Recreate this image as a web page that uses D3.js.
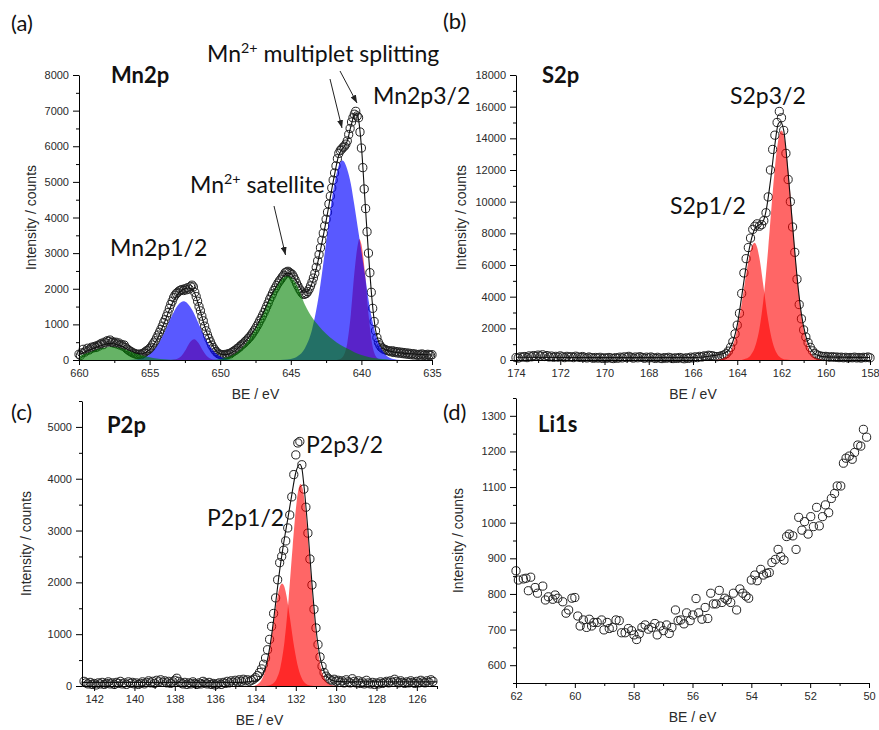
<!DOCTYPE html>
<html>
<head>
<meta charset="utf-8">
<script src="https://cdn.jsdelivr.net/npm/d3@7"></script>
<style>
  body { margin: 0; background: #fff; }
  .lbl { font-family: Lato, "Open Sans", sans-serif; fill: #111; }
</style>
</head>
<body>
<svg id="chart" width="879" height="730"></svg>
<script>
// ---------- Mn2p (a) ----------
const mnStart = 660, mnStep = 0.1;
const mnCounts = [
  160,130,200,300,220,260,330,280,310,360,
  340,380,350,410,390,440,470,430,500,480,
  540,520,560,490,510,470,500,450,480,420,
  440,390,420,350,310,280,250,230,200,190,
  170,160,150,170,150,180,200,230,260,280,
  320,360,420,480,540,620,700,780,860,950,
  1050,1130,1230,1330,1450,1560,1650,1750,1820,1870,
  1900,1940,1960,1980,1950,2000,1970,2030,1990,2060,
  2100,2050,1900,1780,1650,1500,1380,1230,1100,950,
  820,700,600,510,420,350,290,240,200,170,
  160,140,150,130,160,150,180,170,210,230,
  260,280,320,340,380,420,450,480,530,560,
  610,650,700,760,820,880,950,1020,1100,1170,
  1250,1330,1420,1510,1600,1700,1780,1860,1950,2020,
  2090,2160,2220,2270,2330,2380,2450,2470,2490,2460,
  2430,2400,2330,2250,2160,2080,2000,1940,1880,1840,
  1850,1870,1920,1990,2080,2180,2300,2430,2600,2780,
  2960,3150,3360,3560,3760,3950,4150,4380,4600,4830,
  5050,5250,5450,5650,5800,5880,5920,5970,6000,6060,
  6150,6330,6500,6680,6800,6900,6980,6850,6800,6400,
  5950,5400,4800,4250,3600,3000,2450,1900,1450,1080,
  820,630,500,420,360,330,300,290,270,260,
  250,230,260,210,240,200,230,190,220,180,
  210,170,200,160,190,150,180,140,170,150,
  130,160,140,170,130,150,120,160,140,130,
  150
];
const mnFit = [[660,150],[659.5,240],[659,320],[658.5,400],[658,460],[657.75,470],[657.5,450],[657,390],[656.5,290],[656,200],[655.6,170],[655.25,220],[655,290],[654.5,560],[654,1000],[653.5,1500],[653,1850],[652.75,1950],[652.5,2000],[652.25,2020],[652,1990],[651.75,1820],[651.5,1500],[651.25,1150],[651,820],[650.5,380],[650,170],[649.6,150],[649,250],[648.5,420],[648,620],[647.5,900],[647,1280],[646.5,1720],[646,2080],[645.5,2360],[645.25,2440],[645,2420],[644.5,2150],[644.1,1900],[643.8,1930],[643.5,2150],[643.25,2470],[643,2900],[642.5,3900],[642,5000],[641.6,5750],[641.3,5950],[641,6150],[640.75,6550],[640.5,6880],[640.35,6920],[640.2,6750],[640,6000],[639.75,4500],[639.5,3000],[639.25,1700],[639,850],[638.75,480],[638.5,330],[638,250],[637.5,210],[637,190],[636,160],[635,140]];
const mnGreenSmall = [[660,115],[659.5,180],[659,255],[658.5,320],[658,360],[657.7,370],[657.5,365],[657,330],[656.5,270],[656,195],[655.5,125],[655,75],[654.5,40],[654,18],[653.5,5],[653,0]];
const mnBlue12 = [[656.5,0],[656,15],[655.5,50],[655,155],[654.5,370],[654,730],[653.5,1180],[653,1540],[652.75,1630],[652.6,1650],[652.5,1640],[652.25,1560],[652,1420],[651.5,1000],[651,570],[650.5,265],[650,100],[649.5,30],[649,0]];
const mnRed12 = [[653.5,0],[653.25,12],[653,40],[652.75,115],[652.5,250],[652.25,430],[652,555],[651.85,580],[651.75,570],[651.5,455],[651.25,280],[651,135],[650.75,50],[650.5,15],[650.25,0]];
const mnGreenSat = [[650.5,0],[650,30],[649.5,75],[649,160],[648.5,320],[648,560],[647.5,900],[647,1320],[646.5,1750],[646,2100],[645.5,2320],[645.25,2350],[645,2320],[644.5,2050],[644,1550],[643.5,1200],[643,950],[642.5,740],[642,570],[641.5,430],[641,320],[640.5,220],[640,140],[639.5,85],[639,50],[638.5,25],[638,10],[637.5,0]];
const mnBlue32 = [[646,0],[645.5,10],[645,30],[644.5,110],[644,330],[643.5,850],[643,1850],[642.5,3300],[642,4750],[641.75,5250],[641.5,5550],[641.35,5600],[641.25,5580],[641,5350],[640.75,4950],[640.5,4350],[640.25,3700],[640,3050],[639.75,2400],[639.5,1700],[639.25,1150],[639,740],[638.75,450],[638.5,260],[638.25,135],[638,60],[637.5,10],[637,0]];
const mnRed32 = [[641.75,0],[641.5,25],[641.25,130],[641,480],[640.75,1280],[640.5,2440],[640.25,3250],[640.15,3400],[640,3250],[639.75,2450],[639.5,1300],[639.25,480],[639,120],[638.75,25],[638.5,0]];
const mnTicksX = [660,655,650,645,640,635];
const mnMinorX = [657.5,652.5,647.5,642.5,637.5];
const mnTicksY = [0,1000,2000,3000,4000,5000,6000,7000,8000];
const mnMinorY = [500,1500,2500,3500,4500,5500,6500,7500];

// ---------- S2p (b) ----------
const sStart = 174, sStep = 0.1;
const sCounts = [
  150,120,200,180,220,150,260,200,280,230,
  310,250,330,220,280,190,250,170,230,180,
  260,200,150,230,180,210,150,240,190,160,
  220,170,130,190,150,110,160,120,170,100,
  140,110,160,120,90,150,110,180,130,200,
  150,230,170,120,190,140,210,160,110,180,
  130,190,140,100,170,120,90,150,110,170,
  130,90,140,100,160,120,80,140,100,180,
  130,200,150,230,190,260,230,300,280,260,
  220,210,230,270,320,400,560,800,1150,1650,
  2200,2950,4200,5500,6400,7100,7700,8250,8450,8600,
  8450,8550,8800,9300,10300,12000,13300,14200,15000,15700,
  15300,14500,13050,11400,10000,8400,6800,5100,3500,2600,
  1900,1450,1100,800,580,420,330,270,240,220,
  230,200,180,210,170,190,150,180,140,170,
  130,160,140,180,130,160,120,170,150,190,
  140
];
const sFit = [[174,170],[170,150],[166,150],[165.5,200],[165.2,250],[165,290],[164.8,360],[164.6,430],[164.4,600],[164.2,1150],[164,2200],[163.8,4000],[163.6,5900],[163.4,7400],[163.2,8300],[163,8550],[162.85,8700],[162.7,9400],[162.5,11300],[162.3,13600],[162.15,14900],[162.05,15050],[161.9,14500],[161.7,11800],[161.5,8500],[161.3,5300],[161.1,2900],[160.9,1500],[160.7,750],[160.5,400],[160.3,260],[160,200],[158,160]];
const s12 = [[165,0],[164.8,33],[164.6,119],[164.4,360],[164.2,920],[164,1977],[163.8,3566],[163.6,5409],[163.4,6898],[163.3,7298],[163.22,7400],[163.1,7104],[163,6452],[162.8,4489],[162.6,2489],[162.4,1101],[162.2,388],[162,109],[161.8,24],[161.6,0]];
const s32 = [[163.8,0],[163.6,87],[163.4,288],[163.2,815],[163,1962],[162.8,4030],[162.6,7058],[162.4,10530],[162.2,13385],[162.1,14213],[162,14500],[161.9,14213],[161.8,13385],[161.6,10530],[161.4,7058],[161.2,4030],[161,1962],[160.8,815],[160.6,288],[160.4,87],[160.2,22],[160,0]];
const sTicksX = [174,172,170,168,166,164,162,160,158];
const sMinorX = [173,171,169,167,165,163,161,159];
const sTicksY = [0,2000,4000,6000,8000,10000,12000,14000,16000,18000];
const sMinorY = [1000,3000,5000,7000,9000,11000,13000,15000,17000];

// ---------- P2p (c) ----------
const pStart = 142.5, pStep = 0.1;
const pCounts = [
  90,60,40,70,30,50,20,60,40,70,
  30,50,80,40,60,30,70,50,90,40,
  60,30,80,50,70,40,60,30,50,80,
  40,70,100,60,90,50,110,80,120,70,
  100,60,90,50,80,110,150,90,60,40,
  70,30,60,40,80,50,30,60,40,90,
  60,40,70,30,50,20,40,60,30,70,
  50,90,60,100,70,110,80,120,90,130,
  100,120,90,110,130,160,200,260,330,420,
  540,700,900,1150,1400,1700,2050,2380,2500,2620,
  2800,3050,3300,3650,4080,4460,4690,4720,4270,3800,
  3450,2950,2450,1950,1480,1120,800,560,380,260,
  190,150,120,100,130,90,110,70,100,60,
  120,80,60,140,90,60,100,50,80,40,
  110,60,40,70,30,60,40,80,50,70,
  90,60,100,70,130,90,60,100,70,50,
  80,60,100,70,50,90,60,110,80,60,
  100,70,120,90
];
const pFit = [[142.6,70],[135,70],[134.4,80],[134,95],[133.8,130],[133.6,250],[133.4,520],[133.2,980],[133,1600],[132.8,2230],[132.6,2760],[132.4,3220],[132.2,3690],[132,4120],[131.8,4280],[131.7,4200],[131.6,3880],[131.4,3010],[131.2,1980],[131,1110],[130.8,560],[130.6,280],[130.4,160],[130.2,110],[130,90],[129,80],[125,80]];
const p12 = [[134.1,0],[133.88,40],[133.68,132],[133.48,351],[133.28,748],[133.08,1284],[132.88,1777],[132.78,1930],[132.68,1980],[132.58,1930],[132.48,1777],[132.28,1284],[132.08,748],[131.88,351],[131.68,132],[131.48,40],[131.28,10],[131.1,0]];
const p32 = [[133.5,0],[133.36,9],[133.16,38],[132.96,130],[132.76,367],[132.56,860],[132.36,1665],[132.16,2672],[131.96,3548],[131.86,3810],[131.76,3900],[131.66,3810],[131.56,3548],[131.36,2672],[131.16,1665],[130.96,860],[130.76,367],[130.56,130],[130.36,38],[130.16,9],[130,0]];
const pTicksX = [142,140,138,136,134,132,130,128,126];
const pMinorX = [141,139,137,135,133,131,129,127,125];
const pTicksY = [0,1000,2000,3000,4000,5000];
const pMinorY = [500,1500,2500,3500,4500,5500];

// ---------- Li1s (d) ----------
const liBE = [62.0,61.92,61.75,61.66,61.58,61.5,61.35,61.27,61.09,61.0,
  60.9,60.75,60.67,60.58,60.41,60.3,60.21,60.1,60.0,59.9,
  59.82,59.71,59.6,59.51,59.43,59.35,59.24,59.09,59.01,58.9,
  58.83,58.71,58.6,58.49,58.41,58.29,58.18,58.07,57.99,57.9,
  57.81,57.72,57.61,57.5,57.39,57.28,57.2,57.1,56.99,56.88,
  56.79,56.7,56.58,56.49,56.4,56.29,56.2,56.08,55.99,55.88,
  55.79,55.68,55.57,55.48,55.38,55.29,55.2,55.09,55.0,54.9,
  54.82,54.7,54.61,54.5,54.39,54.29,54.18,54.09,54.0,53.88,
  53.8,53.68,53.59,53.48,53.39,53.3,53.18,53.09,53.0,52.89,
  52.8,52.71,52.59,52.48,52.39,52.28,52.19,52.07,51.98,51.89,
  51.78,51.69,51.58,51.48,51.37,51.28,51.17,51.08,50.96,50.87,
  50.78,50.67,50.57,50.49,50.38,50.28,50.19,50.08];
const liCounts = [865,839,842,844,809,847,818,802,822,783,
  792,785,797,788,778,746,755,788,790,738,
  710,727,706,729,710,720,720,727,699,720,
  703,706,727,725,691,691,703,697,685,672,
  688,706,713,701,706,717,685,710,697,713,
  689,706,755,725,727,716,747,725,741,787,
  747,729,762,731,802,772,772,810,776,788,
  783,776,802,755,814,802,794,788,839,853,
  837,869,853,858,860,888,897,925,905,895,
  961,968,963,925,1015,979,1003,968,1017,989,
  1043,991,1017,1050,1028,1068,1082,1103,1103,1167,
  1181,1187,1178,1197,1218,1215,1262,1240];
const liTicksX = [62,60,58,56,54,52,50];
const liMinorX = [61,59,57,55,53,51];
const liTicksY = [600,700,800,900,1000,1100,1200,1300];
const liMinorY = [550,650,750,850,950,1050,1150,1250,1350];

const RED = "#ff0000", BLUE = "#0000ff", GREEN = "#008000";

const svg = d3.select("#chart");
const defs = svg.append("defs");
defs.append("marker").attr("id", "arr")
  .attr("viewBox", "0 0 8 6").attr("refX", 8).attr("refY", 3)
  .attr("markerWidth", 8).attr("markerHeight", 6)
  .attr("markerUnits", "userSpaceOnUse").attr("orient", "auto")
  .append("path").attr("d", "M0,0L8,3L0,6Z").attr("fill", "#222");

const grid = (start, step, arr) => arr.map((v, i) => [+(start - i * step).toFixed(2), v]);

function drawPanel(p) {
  const x = d3.scaleLinear().domain(p.xDom).range([p.x0, p.x1]);
  const y = d3.scaleLinear().domain(p.yDom).range([p.yBot, p.yTop]);
  const g = svg.append("g");

  // data points first, fills go over them
  g.append("g").selectAll("circle").data(p.points).join("circle")
    .attr("cx", d => x(d[0])).attr("cy", d => y(d[1])).attr("r", 4.1)
    .attr("fill", "none").attr("stroke", "#222").attr("stroke-width", 1);

  const area = d3.area().x(d => x(d[0])).y0(y(0)).y1(d => y(d[1])).curve(d3.curveMonotoneX);
  (p.comps || []).forEach(c => {
    g.append("path").datum(c.pts).attr("d", area)
      .attr("fill", c.color).attr("fill-opacity", c.op);
  });

  if (p.fit) {
    const line = d3.line().x(d => x(d[0])).y(d => y(d[1])).curve(d3.curveMonotoneX);
    g.append("path").datum(p.fit).attr("d", line)
      .attr("fill", "none").attr("stroke", "#111").attr("stroke-width", 1.1);
  }

  const styleAxis = s => {
    s.attr("font-family", "'Liberation Sans', Arial, sans-serif").attr("font-size", 11);
    s.selectAll("text").attr("fill", "#2a2a2a");
    s.select(".domain").attr("stroke", "#000");
  };
  g.append("g").attr("transform", `translate(0,${p.yBot})`)
    .call(d3.axisBottom(x).tickValues(p.xMajor).tickSize(5).tickSizeOuter(0).tickPadding(4).tickFormat(d3.format("d")))
    .call(styleAxis);
  g.append("g").attr("transform", `translate(0,${p.yBot})`)
    .call(d3.axisBottom(x).tickValues(p.xMinor).tickSize(3).tickFormat(""))
    .call(s => s.select(".domain").remove());
  g.append("g").attr("transform", `translate(${p.x0},0)`)
    .call(d3.axisLeft(y).tickValues(p.yMajor).tickSize(6).tickSizeOuter(0).tickPadding(4).tickFormat(d3.format("d")))
    .call(styleAxis);
  g.append("g").attr("transform", `translate(${p.x0},0)`)
    .call(d3.axisLeft(y).tickValues(p.yMinor).tickSize(3).tickFormat(""))
    .call(s => s.select(".domain").remove());

  g.append("text").attr("x", (p.x0 + p.x1) / 2).attr("y", p.yBot + 39)
    .attr("text-anchor", "middle").attr("font-family", "'Liberation Sans', Arial, sans-serif")
    .attr("font-size", 14).attr("fill", "#2a2a2a").text("BE / eV");
  g.append("text").attr("transform", `translate(${p.yTitleX},${(p.yTop + p.yBot) / 2}) rotate(-90)`)
    .attr("text-anchor", "middle").attr("font-family", "'Liberation Sans', Arial, sans-serif")
    .attr("font-size", 14).attr("fill", "#2a2a2a").text("Intensity / counts");
}

drawPanel({
  x0: 79, x1: 432, yTop: 75, yBot: 360, xDom: [660, 635], yDom: [0, 8000], yTitleX: 36,
  xMajor: mnTicksX, xMinor: mnMinorX, yMajor: mnTicksY, yMinor: mnMinorY,
  points: grid(mnStart, mnStep, mnCounts),
  comps: [
    { pts: mnRed12, color: RED, op: 0.6 }, { pts: mnRed32, color: RED, op: 0.6 },
    { pts: mnBlue12, color: BLUE, op: 0.65 }, { pts: mnBlue32, color: BLUE, op: 0.65 },
    { pts: mnGreenSmall, color: GREEN, op: 0.6 }, { pts: mnGreenSat, color: GREEN, op: 0.6 }
  ],
  fit: mnFit
});
drawPanel({
  x0: 516, x1: 870, yTop: 75, yBot: 360, xDom: [174, 158], yDom: [0, 18000], yTitleX: 466,
  xMajor: sTicksX, xMinor: sMinorX, yMajor: sTicksY, yMinor: sMinorY,
  points: grid(sStart, sStep, sCounts),
  comps: [{ pts: s12, color: RED, op: 0.6 }, { pts: s32, color: RED, op: 0.6 }],
  fit: sFit
});
drawPanel({
  x0: 82, x1: 437, yTop: 401, yBot: 686, xDom: [142.6, 125], yDom: [0, 5500], yTitleX: 31,
  xMajor: pTicksX, xMinor: pMinorX, yMajor: pTicksY, yMinor: pMinorY,
  points: grid(pStart, pStep, pCounts),
  comps: [{ pts: p12, color: RED, op: 0.6 }, { pts: p32, color: RED, op: 0.6 }],
  fit: pFit
});
drawPanel({
  x0: 516, x1: 869, yTop: 398, yBot: 683, xDom: [62, 50], yDom: [550, 1350], yTitleX: 463,
  xMajor: liTicksX, xMinor: liMinorX, yMajor: liTicksY, yMinor: liMinorY,
  points: liBE.map((b, i) => [b, liCounts[i]])
});

// ---------- annotations ----------
function label(x, y, txt, size, bold) {
  return svg.append("text").attr("class", "lbl").attr("x", x).attr("y", y)
    .attr("font-size", size).attr("font-weight", bold ? 700 : 400).text(txt);
}
function supLabel(x, y, pre, sup, post, size) {
  const t = svg.append("text").attr("class", "lbl").attr("x", x).attr("y", y).attr("font-size", size);
  t.append("tspan").text(pre);
  t.append("tspan").attr("dy", -9).attr("font-size", size * 0.62).text(sup);
  t.append("tspan").attr("dy", 9).text(post);
}
function arrow(x1, y1, x2, y2) {
  svg.append("line").attr("x1", x1).attr("y1", y1).attr("x2", x2).attr("y2", y2)
    .attr("stroke", "#222").attr("stroke-width", 1).attr("marker-end", "url(#arr)");
}

label(11, 31, "(a)", 22);
label(443, 29, "(b)", 22);
label(11, 420, "(c)", 22);
label(443, 420, "(d)", 22);

label(111, 83, "Mn2p", 22, true);
supLabel(207, 62, "Mn", "2+", " multiplet splitting", 23);
label(373, 104, "Mn2p3/2", 23);
supLabel(190, 193, "Mn", "2+", " satellite", 23);
label(110, 256, "Mn2p1/2", 23);
arrow(330, 79, 342, 128);
arrow(340, 71, 357, 103);
arrow(274, 206, 285.5, 255);

label(542, 83, "S2p", 22, true);
label(730, 104, "S2p3/2", 23);
label(670, 214, "S2p1/2", 23);

label(107, 433, "P2p", 22, true);
label(306, 453, "P2p3/2", 23);
label(207, 526, "P2p1/2", 23);

label(538, 432, "Li1s", 22, true);
</script>
</body>
</html>
